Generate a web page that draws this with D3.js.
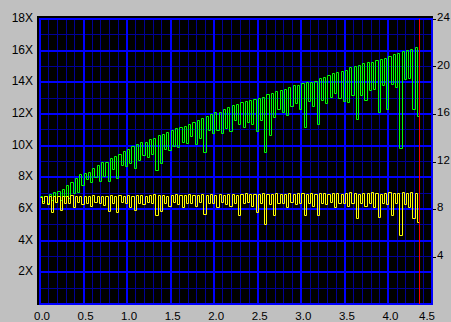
<!DOCTYPE html>
<html>
<head>
<meta charset="utf-8">
<script src="https://cdn.jsdelivr.net/npm/d3@7"></script>
<style>
  html, body { margin: 0; padding: 0; background: #c0c0c0; }
  svg { display: block; }
  text { font-family: "Liberation Sans", Arial, sans-serif; font-size: 11.5px; fill: #000; }
</style>
</head>
<body>
<svg id="chart"></svg>
<script>
// axis ticks
const speedTicks = [2, 4, 6, 8, 10, 12, 14, 16, 18]
const rightTicks = [4, 8, 12, 16, 20, 24]
const positionTicks = [0, 0.5, 1, 1.5, 2, 2.5, 3, 3.5, 4, 4.5]

// one sample tooth every 0.05 on the position axis, run ends at 4.35
const sampleStep = 0.05
const endPosition = 4.35

// green trace: plateau value and dip value of each tooth
const greenPeak = [
	6.8, 6.85, 6.95, 7.05, 7.15, 7.25, 7.5, 7.7, 7.95, 8.2,
	8.3, 8.35, 8.6, 8.8, 8.95, 9.0, 9.2, 9.35, 9.5, 9.65,
	9.8, 9.95, 10.1, 10.25, 10.25, 10.45, 10.5, 10.65, 10.75, 10.85,
	11.0, 11.1, 11.2, 11.25, 11.35, 11.5, 11.6, 11.75, 11.85, 12.0,
	12.1, 12.15, 12.3, 12.45, 12.55, 12.65, 12.75, 12.8, 12.9, 12.95,
	13.0, 13.1, 13.25, 13.35, 13.45, 13.5, 13.6, 13.7, 13.8, 13.85,
	13.95, 14.0, 14.05, 14.1, 14.25, 14.35, 14.45, 14.6, 14.65, 14.7,
	14.8, 14.95, 15.05, 15.1, 15.2, 15.3, 15.3, 15.4, 15.5, 15.55,
	15.65, 15.8, 15.85, 15.95, 16.05, 16.1, 16.25
]
const greenDip = [
	6.5, 6.4, 6.55, 6.45, 6.6, 6.8, 6.7, 7.0, 7.05, 7.5,
	7.9, 7.7, 8.0, 7.75, 8.1, 7.8, 8.5, 7.95, 8.8, 8.7,
	8.9, 8.6, 9.1, 9.4, 9.3, 9.5, 8.45, 8.9, 9.8, 9.7,
	10.0, 9.9, 10.25, 10.2, 10.6, 10.1, 10.5, 9.6, 11.0, 10.8,
	11.0, 10.8, 11.1, 10.9, 11.6, 11.4, 11.2, 11.5, 11.4, 10.9,
	11.6, 9.6, 10.7, 11.8, 12.3, 12.1, 11.95, 12.5, 12.7, 12.3,
	11.2, 12.8, 12.5, 11.4, 12.9, 12.7, 13.1, 13.3, 13.0, 12.8,
	12.75, 13.2, 11.7, 13.2, 12.9, 13.5, 13.6, 12.15, 13.8, 12.3,
	13.9, 13.7, 9.85, 14.2, 14.3, 12.3, 11.9
]

// yellow trace
const yellowPeak = [
	6.75, 6.8, 6.85, 6.8, 6.85, 6.8, 6.85, 6.9, 6.8, 6.85,
	6.85, 6.8, 6.9, 6.85, 6.85, 6.8, 6.9, 6.85, 6.9, 6.85,
	6.9, 6.85, 6.9, 6.9, 6.85, 6.9, 6.95, 6.9, 6.9, 6.85,
	6.9, 6.95, 6.9, 6.9, 6.95, 6.9, 6.9, 6.95, 6.9, 6.95,
	6.9, 6.95, 6.9, 6.95, 6.95, 6.9, 6.95, 7.0, 6.95, 6.95,
	6.95, 7.0, 6.95, 6.95, 7.0, 6.95, 6.95, 7.0, 6.95, 7.0,
	7.0, 6.95, 7.0, 6.95, 7.0, 7.0, 6.95, 7.0, 7.0, 6.95,
	7.0, 7.05, 7.0, 6.95, 7.0, 7.0, 7.05, 7.0, 6.95, 7.0,
	7.05, 7.0, 7.0, 7.05, 7.0, 7.05, 7.0
]
const yellowDip = [
	6.4, 6.3, 5.8, 6.45, 5.95, 6.35, 6.4, 6.1, 6.45, 6.3,
	6.4, 6.2, 6.45, 6.35, 6.25, 5.9, 6.4, 5.8, 6.45, 6.35,
	6.1, 5.95, 6.4, 6.3, 6.45, 6.35, 5.6, 5.9, 6.4, 6.2,
	6.45, 6.3, 6.1, 6.4, 6.35, 6.2, 6.45, 5.7, 6.35, 6.4,
	6.1, 6.45, 6.3, 6.2, 6.4, 5.65, 6.35, 6.45, 6.2, 5.8,
	6.4, 5.08, 6.3, 5.6, 6.4, 6.35, 6.1, 6.45, 6.3, 6.4,
	5.6, 6.35, 6.2, 5.6, 6.4, 6.3, 6.45, 6.1, 6.35, 6.4,
	6.2, 6.35, 5.4, 6.4, 6.2, 6.35, 6.1, 5.5, 6.4, 6.3,
	5.6, 6.35, 4.34, 6.3, 6.1, 5.4, 5.2
]

const width = 451
const height = 322

const svg = d3.select('#chart')
	.attr('width', width)
	.attr('height', height)

const x = d3.scaleLinear().domain([0, 4.5]).range([40, 432])
const y = d3.scaleLinear().domain([0, 18]).range([304, 19])
const yRight = d3.scaleLinear().domain([0, 24]).range([304, 19])

// plot background
svg.append('rect')
	.attr('x', 37)
	.attr('y', 16)
	.attr('width', 433 - 37)
	.attr('height', 305 - 16)
	.attr('fill', '#000')

// grid, minor lines first
const grid = svg.append('g').attr('shape-rendering', 'crispEdges')
const xGrid = d3.range(0, 46).map(i => i / 10)
const yGrid = d3.range(0, 19)

grid.selectAll('.vminor')
	.data(xGrid.filter((d, i) => i % 5 !== 0))
	.join('line')
	.attr('x1', d => x(d)).attr('x2', d => x(d))
	.attr('y1', y(18)).attr('y2', y(0))
	.attr('stroke', '#000096').attr('stroke-width', 1)

grid.selectAll('.hminor')
	.data(yGrid.filter(d => d % 2 !== 0))
	.join('line')
	.attr('x1', x(0)).attr('x2', x(4.5))
	.attr('y1', d => y(d)).attr('y2', d => y(d))
	.attr('stroke', '#000096').attr('stroke-width', 1)

grid.selectAll('.vmajor')
	.data(xGrid.filter((d, i) => i % 5 === 0))
	.join('line')
	.attr('x1', d => x(d)).attr('x2', d => x(d))
	.attr('y1', y(18) - 1).attr('y2', y(0) + 1)
	.attr('stroke', '#0000ff').attr('stroke-width', 2)

grid.selectAll('.hmajor')
	.data(yGrid.filter(d => d % 2 === 0))
	.join('line')
	.attr('x1', x(0) - 1).attr('x2', x(4.5) + 1)
	.attr('y1', d => y(d)).attr('y2', d => y(d))
	.attr('stroke', '#0000ff').attr('stroke-width', 2)

// turn peak / dip pairs into a stepped trace
function teeth(peak, dip) {
	const pts = []
	peak.forEach((p, i) => {
		pts.push([i * sampleStep, p])
		pts.push([(i + 0.5) * sampleStep, dip[i]])
	})
	pts.push([endPosition, dip[dip.length - 1]])
	return pts
}

// snap to pixel centres so the 1px trace stays sharp
const line = d3.line()
	.x(d => Math.round(x(d[0])) + 0.5)
	.y(d => Math.round(y(d[1])) + 0.5)
	.curve(d3.curveStepAfter)

svg.append('path')
	.datum(teeth(greenPeak, greenDip))
	.attr('d', line)
	.attr('fill', 'none')
	.attr('stroke', '#00ff00')
	.attr('stroke-width', 1)

svg.append('path')
	.datum(teeth(yellowPeak, yellowDip))
	.attr('d', line)
	.attr('fill', 'none')
	.attr('stroke', '#ffff00')
	.attr('stroke-width', 1)

// end of run marker
svg.append('line')
	.attr('x1', Math.round(x(endPosition)) + 0.5).attr('x2', Math.round(x(endPosition)) + 0.5)
	.attr('y1', y(18)).attr('y2', y(0))
	.attr('stroke', '#ff0000').attr('stroke-width', 1)

// left labels
svg.append('g')
	.selectAll('text')
	.data(speedTicks)
	.join('text')
	.attr('x', 33)
	.attr('y', d => y(d) + 3)
	.attr('text-anchor', 'end')
	.style('font-size', '12px')
	.text(d => d + 'X')

// right labels with short ticks
const right = svg.append('g')
right.selectAll('line')
	.data(rightTicks)
	.join('line')
	.attr('x1', 433).attr('x2', 436)
	.attr('y1', d => Math.round(yRight(d)) + 0.5).attr('y2', d => Math.round(yRight(d)) + 0.5)
	.attr('stroke', '#000')
right.selectAll('text')
	.data(rightTicks)
	.join('text')
	.attr('x', 437)
	.attr('y', d => yRight(d) + 2)
	.text(d => d)

// bottom labels
svg.append('g')
	.selectAll('text')
	.data(positionTicks)
	.join('text')
	.attr('x', d => d === 4.5 ? 435 : x(d) + 2)
	.attr('y', 319.5)
	.attr('text-anchor', d => d === 4.5 ? 'end' : 'middle')
	.text(d => d.toFixed(1))
</script>
</body>
</html>
